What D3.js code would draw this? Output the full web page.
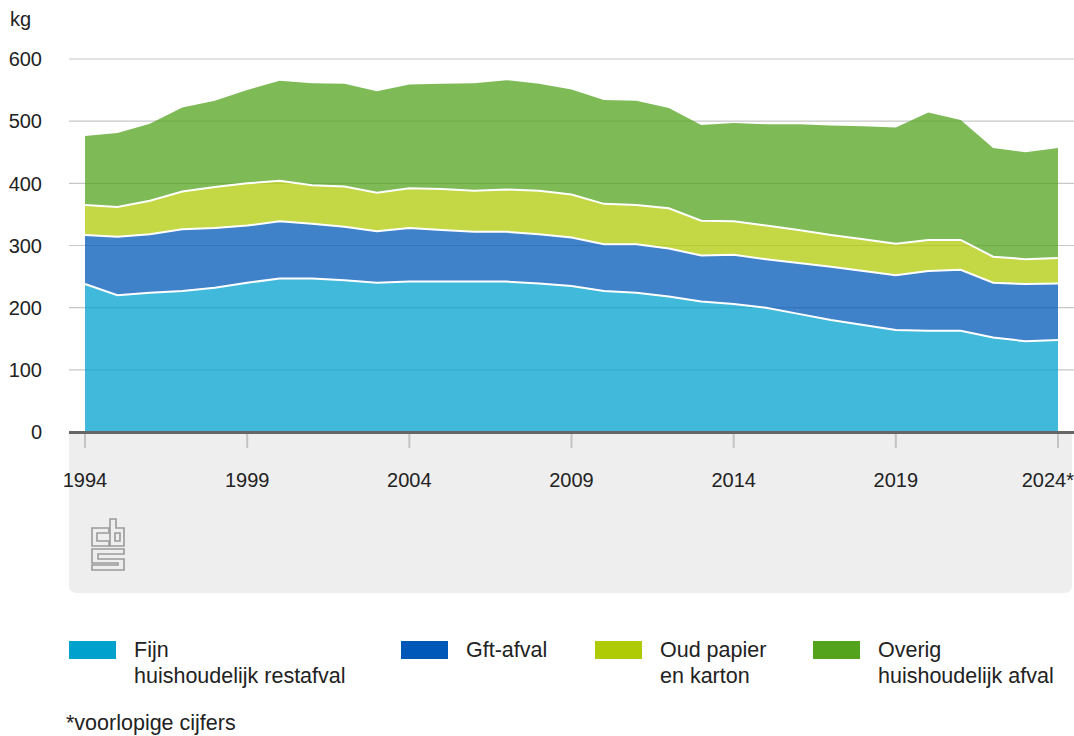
<!DOCTYPE html>
<html>
<head>
<meta charset="utf-8">
<script src="https://cdn.jsdelivr.net/npm/d3@7"></script>
<style>
    body { margin: 0; background: #fff; }
    svg { display: block; font-family: "Liberation Sans", Arial, sans-serif; }
</style>
</head>
<body>
<div id="chart"></div>
<script>
const years = d3.range(1994, 2025);
const restafval = [238, 220, 224, 227, 232, 240, 247, 247, 244, 240, 242, 242, 242, 242, 239, 235,
    227, 224, 218, 210, 206, 200, 190, 180, 172, 164, 163, 163, 152, 146, 148];
const gft = [79, 94, 94, 99, 96, 92, 92, 88, 86, 83, 86, 83, 80, 80, 79, 78,
    75, 78, 77, 74, 79, 78, 82, 86, 87, 88, 96, 98, 88, 92, 91];
const papier = [48, 48, 54, 61, 66, 68, 65, 62, 65, 62, 64, 66, 66, 68, 70, 69,
    65, 63, 65, 56, 54, 54, 53, 51, 51, 51, 50, 48, 42, 40, 41];
const overig = [111, 119, 124, 135, 139, 150, 161, 164, 165, 163, 167, 169, 173, 176, 172, 169,
    167, 168, 161, 154, 158, 163, 170, 176, 182, 187, 205, 193, 175, 172, 177];

const seriesKeys = ["rest", "gft", "papier", "overig"];
const seriesLabels = [["Fijn", "huishoudelijk restafval"], ["Gft-afval"], ["Oud papier", "en karton"], ["Overig", "huishoudelijk afval"]];
const seriesColors = ["#00a1cd", "#0058b8", "#afcb05", "#53a31d"];
const yTicks = [0, 100, 200, 300, 400, 500, 600];
const xTicks = [1994, 1999, 2004, 2009, 2014, 2019, 2024];

const WIDTH = 1074,
    HEIGHT = 736,
    PLOT = { LEFT: 69, RIGHT: 1074, TOP: 59, BOTTOM: 432 };

const rows = years.map((yr, i) => ({
    year: yr, rest: restafval[i], gft: gft[i], papier: papier[i], overig: overig[i]
}));

const svg = d3.select("#chart")
    .append("svg")
    .attr("width", WIDTH)
    .attr("height", HEIGHT);

const xScale = d3.scaleLinear().domain([1994, 2024]).range([85, 1058]);
const yScale = d3.scaleLinear().domain([0, 600]).range([PLOT.BOTTOM, PLOT.TOP]);
const colorScale = d3.scaleOrdinal().domain(seriesKeys).range(seriesColors);

// Grey footer panel under the axis
svg.append("path")
    .attr("d", `M${PLOT.LEFT},432 H1072 V585 Q1072,593 1064,593 H77 Q${PLOT.LEFT},593 ${PLOT.LEFT},585 Z`)
    .attr("fill", "#eeeeee");

// Gridlines
svg.append("g")
    .selectAll("line")
    .data(yTicks.filter(d => d > 0))
    .join("line")
    .attr("x1", PLOT.LEFT)
    .attr("x2", PLOT.RIGHT)
    .attr("y1", d => yScale(d))
    .attr("y2", d => yScale(d))
    .attr("stroke", "#c8c8c8")
    .attr("stroke-width", 1.2);

// Y labels
svg.append("g")
    .selectAll("text")
    .data(yTicks)
    .join("text")
    .attr("x", 42)
    .attr("y", d => yScale(d))
    .attr("dy", "0.36em")
    .attr("text-anchor", "end")
    .style("font-size", "20px")
    .style("fill", "#222")
    .text(d => d);

svg.append("text")
    .attr("x", 10)
    .attr("y", 26)
    .style("font-size", "20px")
    .style("fill", "#222")
    .text("kg");

// Stacked areas
const stack = d3.stack().keys(seriesKeys);
const layers = stack(rows);

const area = d3.area()
    .x(d => xScale(d.data.year))
    .y0(d => yScale(d[0]))
    .y1(d => yScale(d[1]));

svg.append("g")
    .selectAll("path")
    .data(layers)
    .join("path")
    .attr("d", area)
    .attr("fill", d => colorScale(d.key))
    .attr("fill-opacity", 0.75);

const topLine = d3.line()
    .x(d => xScale(d.data.year))
    .y(d => yScale(d[1]));

svg.append("g")
    .selectAll("path")
    .data(layers.slice(0, 3))
    .join("path")
    .attr("d", topLine)
    .attr("fill", "none")
    .attr("stroke", "#fff")
    .attr("stroke-width", 2);

// X axis
svg.append("g")
    .selectAll("line")
    .data(xTicks)
    .join("line")
    .attr("x1", d => xScale(d))
    .attr("x2", d => xScale(d))
    .attr("y1", 434)
    .attr("y2", 448)
    .attr("stroke", "#c4c4c4")
    .attr("stroke-width", 2);

svg.append("line")
    .attr("x1", PLOT.LEFT)
    .attr("x2", PLOT.RIGHT)
    .attr("y1", 432.5)
    .attr("y2", 432.5)
    .attr("stroke", "#666")
    .attr("stroke-width", 3);

svg.append("g")
    .selectAll("text")
    .data(xTicks)
    .join("text")
    .attr("x", d => d === 2024 ? 1074 : xScale(d))
    .attr("y", 487)
    .attr("text-anchor", d => d === 2024 ? "end" : "middle")
    .style("font-size", "20px")
    .style("fill", "#222")
    .text(d => d === 2024 ? "2024*" : d);

// cbs logo
const logo = svg.append("g")
    .attr("transform", "translate(91, 518)")
    .attr("fill", "none")
    .attr("stroke", "#9a9a9a")
    .attr("stroke-width", 1.6);

logo.append("path").attr("d", "M18,10 H1 V28 H18 V23 H6 V15 H18 Z");
logo.append("path").attr("d", "M19,28 V1 H25 V10 H33 V28 Z M24,15 H29 V23 H24 Z");
logo.append("path").attr("d", "M1,31 H33 V36 H7 V41 H33 V52 H1 V47 H27 V45 H1 Z");

// Legend
const legend = svg.append("g")
    .selectAll("g")
    .data(seriesKeys)
    .join("g")
    .attr("transform", (d, i) => `translate(${[69, 401, 595, 813][i]}, 641)`);

legend.append("rect")
    .attr("width", 47)
    .attr("height", 18)
    .attr("fill", d => colorScale(d));

legend.append("text")
    .attr("x", 65)
    .attr("y", 16)
    .style("font-size", "21.5px")
    .style("fill", "#222")
    .selectAll("tspan")
    .data((d, i) => seriesLabels[i])
    .join("tspan")
    .attr("x", 65)
    .attr("dy", (d, i) => i === 0 ? 0 : 26)
    .text(d => d);

svg.append("text")
    .attr("x", 66)
    .attr("y", 730)
    .style("font-size", "21.5px")
    .style("fill", "#222")
    .text("*voorlopige cijfers");
</script>
</body>
</html>
